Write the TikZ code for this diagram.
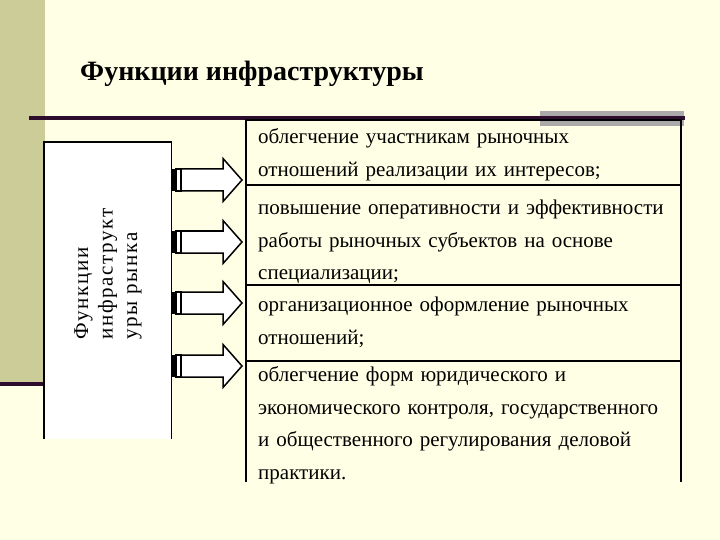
\documentclass[tikz,border=0pt]{standalone}
\usepackage{fontspec}
\setmainfont{Liberation Serif}
\newfontfamily\boxfont[LetterSpace=8]{Liberation Serif}
\definecolor{bg}{RGB}{255,255,229}
\definecolor{khaki}{RGB}{204,204,153}
\definecolor{plum}{RGB}{45,12,45}
\definecolor{barg}{RGB}{170,170,170}
\tikzset{
  rowtext/.style={anchor=north west, inner sep=0pt, text width=430pt, align=left,
    font=\fontsize{21}{32.5}\selectfont},
  tableline/.style={line width=1.5pt, black},
  striparrow/.pic={
    \fill[black] (0,-11) rectangle (5,11);
    \draw[line width=1.5pt, fill=white] (5,-11) rectangle (10,11);
    \draw[line width=1.5pt, fill=white, line join=miter]
      (10,-11) -- (52,-11) -- (52,-21.5) -- (71,0) -- (52,21.5) -- (52,11) -- (10,11) -- cycle;
  }
}
\begin{document}
\begin{tikzpicture}[x=1pt,y=-1pt]
\useasboundingbox (0,0) rectangle (720,540);
\fill[bg] (0,0) rectangle (720,540);
\fill[khaki] (0,0) rectangle (45,382);
\fill[plum] (0,382) rectangle (45,386);
\fill[barg] (540,111) rectangle (684,126);
\fill[plum] (29,116) rectangle (685,120);

\node[anchor=base west, inner sep=0pt, font=\fontsize{28}{30}\selectfont\bfseries] (title) at (80,81) {Функции инфраструктуры};

% left box
\node[anchor=north west, fill=white, inner sep=0pt, minimum width=127pt, minimum height=297pt] (box) at (44,142) {};
\draw[tableline] (box.south west) -- (box.north west) -- (box.north east) -- (box.south east);
\node[rotate=90, anchor=west, align=left, inner sep=0pt, font=\boxfont\fontsize{21}{24.5}\selectfont] (boxtext) at (108,340) {Функции\\инфраструкт\\уры рынка};

% table
\coordinate (tl) at (246,120);
\coordinate (tr) at (681,120);
\coordinate (bl) at (246,482);
\coordinate (br) at (681,482);
\draw[tableline] (bl) -- (tl) -- (tr) -- (br);
\draw[tableline] (246,185) -- (681,185);
\draw[tableline] (246,285) -- (681,285);
\draw[tableline] (246,361) -- (681,361);

\node[rowtext] (r1) at (258,121) {\strut облегчение участникам рыночных\\отношений реализации их интересов;};
\node[rowtext] (r2) at (258,192) {\strut повышение оперативности и эффективности\\работы рыночных субъектов на основе\\специализации;};
\node[rowtext] (r3) at (258,289) {\strut организационное оформление рыночных\\отношений;};
\node[rowtext] (r4) at (258,359) {\strut облегчение форм юридического и\\экономического контроля, государственного\\и общественного регулирования деловой\\практики.};

% arrows
\coordinate (a1) at (171,180);
\coordinate (a2) at (171,242);
\coordinate (a3) at (171,303);
\coordinate (a4) at (171,366);
\pic at (a1) {striparrow};
\pic at (a2) {striparrow};
\pic at (a3) {striparrow};
\pic at (a4) {striparrow};
\end{tikzpicture}
\end{document}
